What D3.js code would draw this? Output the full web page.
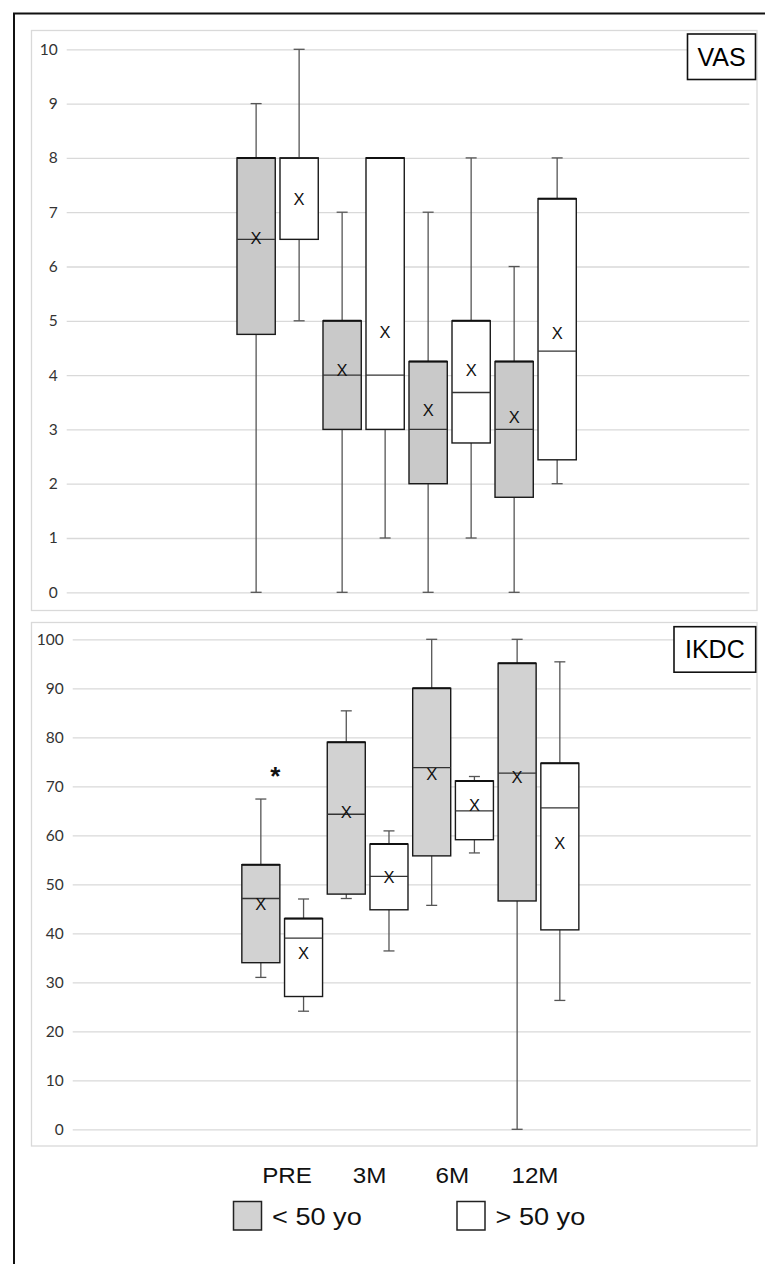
<!DOCTYPE html>
<html><head><meta charset="utf-8">
<script src="https://cdn.jsdelivr.net/npm/d3@7"></script>
<style>body{margin:0;background:#fff}svg{display:block}</style>
</head><body>
<svg id="c" width="765" height="1264"></svg>
<script>
const categories = ["PRE", "3M", "6M", "12M"];
const groups = ["< 50 yo", "> 50 yo"];

// VAS — younger (< 50 yo)
const vasYoungMin  = [0, 0, 0, 0];
const vasYoungQ1   = [4.75, 3, 2, 1.75];
const vasYoungMed  = [6.5, 4, 3, 3];
const vasYoungQ3   = [8, 5, 4.25, 4.25];
const vasYoungMax  = [9, 7, 7, 6];
const vasYoungMean = [6.52, 4.09, 3.36, 3.22];
// VAS — older (> 50 yo)
const vasOldMin  = [5, 1, 1, 2];
const vasOldQ1   = [6.5, 3, 2.75, 2.44];
const vasOldMed  = [8, 4, 3.68, 4.44];
const vasOldQ3   = [8, 8, 5, 7.25];
const vasOldMax  = [10, 8, 8, 8];
const vasOldMean = [7.25, 4.8, 4.09, 4.78];

// IKDC — younger (< 50 yo)
const ikdcYoungMin  = [31, 47.1, 45.7, 0];
const ikdcYoungQ1   = [34, 48, 55.8, 46.6];
const ikdcYoungMed  = [47.1, 64.3, 73.8, 72.7];
const ikdcYoungQ3   = [54, 79, 90, 95.1];
const ikdcYoungMax  = [67.4, 85.4, 100, 100];
const ikdcYoungMean = [45.9, 64.8, 72.6, 71.8];
// IKDC — older (> 50 yo)
const ikdcOldMin  = [24.1, 36.4, 56.4, 26.3];
const ikdcOldQ1   = [27.1, 44.8, 59.1, 40.7];
const ikdcOldMed  = [39, 51.6, 65, 65.6];
const ikdcOldQ3   = [43, 58.2, 71.1, 74.7];
const ikdcOldMax  = [47, 60.9, 72, 95.4];
const ikdcOldMean = [35.9, 51.4, 66.2, 58.4];

const vasTicks = [0, 1, 2, 3, 4, 5, 6, 7, 8, 9, 10];
const ikdcTicks = [0, 10, 20, 30, 40, 50, 60, 70, 80, 90, 100];
const ikdcStar = [{cat: "PRE", value: 73.3}];

function rows(y, o) {
  const out = [];
  categories.forEach((c, i) => {
    out.push({cat: c, grp: groups[0], min: y[0][i], q1: y[1][i], med: y[2][i], q3: y[3][i], max: y[4][i], mean: y[5][i]});
    out.push({cat: c, grp: groups[1], min: o[0][i], q1: o[1][i], med: o[2][i], q3: o[3][i], max: o[4][i], mean: o[5][i]});
  });
  return out;
}
const vasData = rows(
  [vasYoungMin, vasYoungQ1, vasYoungMed, vasYoungQ3, vasYoungMax, vasYoungMean],
  [vasOldMin, vasOldQ1, vasOldMed, vasOldQ3, vasOldMax, vasOldMean]);
const ikdcData = rows(
  [ikdcYoungMin, ikdcYoungQ1, ikdcYoungMed, ikdcYoungQ3, ikdcYoungMax, ikdcYoungMean],
  [ikdcOldMin, ikdcOldQ1, ikdcOldMed, ikdcOldQ3, ikdcOldMax, ikdcOldMean]);

const svg = d3.select("#c");
svg.append("rect").attr("width", 765).attr("height", 1264).attr("fill", "#fff");
svg.append("path").attr("d", "M14,1264V13.5H765").attr("fill", "none")
  .attr("stroke", "#111").attr("stroke-width", 2);

function panel(cfg) {
  const g = svg.append("g");
  g.append("rect").attr("x", cfg.box[0]).attr("y", cfg.box[1])
    .attr("width", cfg.box[2]).attr("height", cfg.box[3])
    .attr("fill", "#fff").attr("stroke", "#d9d9d9").attr("stroke-width", 1.3);

  const L = cfg.L, R = cfg.R, W = R - L;
  const y = d3.scaleLinear().domain(cfg.domain).range([cfg.y0, cfg.y1]);
  const xo = d3.scaleBand().domain(categories).range([L + 0.246 * W, L + 0.75 * W]);
  const xi = d3.scaleBand().domain(groups).range([0, xo.bandwidth()])
    .paddingInner(0.11).paddingOuter(0.055);

  const ax = g.append("g").attr("transform", `translate(${L},0)`)
    .call(d3.axisLeft(y).tickValues(cfg.ticks).tickSize(-W).tickPadding(9));
  ax.select(".domain").remove();
  ax.selectAll(".tick line").attr("stroke", "#d9d9d9").attr("stroke-width", 1.3);
  ax.selectAll(".tick text").attr("fill", "#333")
    .style("font-family", "Lato, 'Open Sans', sans-serif").style("font-size", "15.5px");

  const bw = xi.bandwidth();
  const b = g.selectAll(".bx").data(cfg.data).join("g").attr("class", "bx")
    .attr("transform", d => `translate(${xo(d.cat) + xi(d.grp)},0)`);
  const wc = "#555";
  b.append("line").attr("x1", bw / 2).attr("x2", bw / 2)
    .attr("y1", d => y(d.min)).attr("y2", d => y(d.max))
    .attr("stroke", wc).attr("stroke-width", 1.3);
  b.append("line").attr("x1", bw / 2 - 5.5).attr("x2", bw / 2 + 5.5)
    .attr("y1", d => y(d.min)).attr("y2", d => y(d.min))
    .attr("stroke", wc).attr("stroke-width", 1.3);
  b.append("line").attr("x1", bw / 2 - 5.5).attr("x2", bw / 2 + 5.5)
    .attr("y1", d => y(d.max)).attr("y2", d => y(d.max))
    .attr("stroke", wc).attr("stroke-width", 1.3);
  b.append("rect").attr("x", 0).attr("width", bw)
    .attr("y", d => y(d.q3)).attr("height", d => y(d.q1) - y(d.q3))
    .attr("fill", d => d.grp === groups[0] ? cfg.fill : "#fff")
    .attr("stroke", "#1a1a1a").attr("stroke-width", 1.4);
  b.append("line").attr("x1", 0).attr("x2", bw)
    .attr("y1", d => y(d.q3)).attr("y2", d => y(d.q3))
    .attr("stroke", "#111").attr("stroke-width", 2);
  b.append("line").attr("x1", 0).attr("x2", bw)
    .attr("y1", d => y(d.med)).attr("y2", d => y(d.med))
    .attr("stroke", "#333").attr("stroke-width", 1.3);
  b.append("text").attr("x", bw / 2).attr("y", d => y(d.mean))
    .attr("text-anchor", "middle").attr("dy", "0.36em")
    .style("font-family", "'Liberation Sans', Arial, sans-serif").style("font-size", "16.5px")
    .attr("fill", "#111").text("X");

  // title box
  const t = cfg.title;
  g.append("rect").attr("x", t.x).attr("y", t.y).attr("width", t.w).attr("height", t.h)
    .attr("fill", "#fff").attr("stroke", "#111").attr("stroke-width", 1.6);
  g.append("text").attr("x", t.x + t.w / 2).attr("y", t.y + t.h / 2).attr("dy", "0.36em")
    .attr("text-anchor", "middle")
    .style("font-family", "'Liberation Sans', Arial, sans-serif").style("font-size", "25px")
    .attr("fill", "#000").text(t.text);

  if (cfg.star) {
    g.selectAll(".star").data(cfg.star).join("text").attr("class", "star")
      .attr("x", d => xo(d.cat) + xo.bandwidth() / 2 - 7)
      .attr("y", d => y(d.value) + 15)
      .attr("text-anchor", "middle")
      .style("font-family", "'Liberation Sans', Arial, sans-serif").style("font-size", "26px")
      .style("font-weight", "bold").attr("fill", "#111").text("*");
  }
}

panel({box: [31.5, 30.5, 725.5, 580], L: 66.7, R: 749.3, domain: [0, 10], y0: 592.3, y1: 49.3,
  ticks: vasTicks, data: vasData, fill: "#c9c9c9",
  title: {x: 687.5, y: 34, w: 68, h: 45.5, text: "VAS"}});
panel({box: [31.5, 622.5, 725.5, 523.5], L: 72.7, R: 750.7, domain: [0, 100], y0: 1129.3, y1: 639.3,
  ticks: ikdcTicks, data: ikdcData, fill: "#d2d2d2",
  title: {x: 674, y: 626.7, w: 81.7, h: 45.5, text: "IKDC"}, star: ikdcStar});

// category labels
const xl = d3.scalePoint().domain(categories).range([287, 535]);
svg.selectAll(".cl").data(categories).join("text").attr("class", "cl")
  .attr("transform", d => `translate(${xl(d)},1183) scale(1.1,1)`)
  .attr("text-anchor", "middle")
  .style("font-family", "'Liberation Sans', Arial, sans-serif").style("font-size", "22px")
  .attr("fill", "#111").text(d => d);

// legend
const legX = [233.5, 457];
const lg = svg.selectAll(".lg").data(groups).join("g").attr("class", "lg")
  .attr("transform", (d, i) => `translate(${legX[i]},1201.5)`);
lg.append("rect").attr("width", 28).attr("height", 28.5)
  .attr("fill", (d, i) => i === 0 ? "#d2d2d2" : "#fff")
  .attr("stroke", "#222").attr("stroke-width", 1.5);
lg.append("text").attr("transform", "translate(38.5,23.5) scale(1.18,1)")
  .style("font-family", "'Liberation Sans', Arial, sans-serif").style("font-size", "23px")
  .attr("fill", "#111").text(d => d);
</script>
</body></html>
